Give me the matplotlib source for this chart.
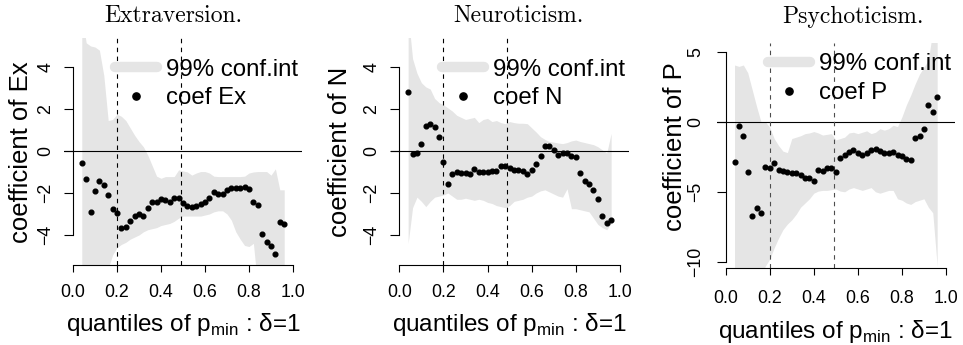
import numpy as np
import matplotlib
matplotlib.use("Agg")
import matplotlib.pyplot as plt
from matplotlib.lines import Line2D

plt.rcParams['font.family'] = ['Liberation Sans', 'DejaVu Sans']
plt.rcParams['axes.unicode_minus'] = True

# ===== DATA =====
quantiles = [0.04, 0.06, 0.08, 0.10, 0.12, 0.14, 0.16, 0.18, 0.20, 0.22, 0.24, 0.26,
             0.28, 0.30, 0.32, 0.34, 0.36, 0.38, 0.40, 0.42, 0.44, 0.46, 0.48, 0.50,
             0.52, 0.54, 0.56, 0.58, 0.60, 0.62, 0.64, 0.66, 0.68, 0.70, 0.72, 0.74,
             0.76, 0.78, 0.80, 0.82, 0.84, 0.86, 0.88, 0.90, 0.92, 0.94, 0.96]

titles = ['Extraversion.', 'Neuroticism.', 'Psychoticism.']
short_names = ['Ex', 'N', 'P']
cut_points = [0.2, 0.49]

coef_ex = [-0.59, -1.35, -2.89, -1.92, -1.41, -1.63, -2.10, -2.78, -2.97, -3.65, -3.60, -3.32,
           -3.08, -3.02, -3.08, -2.73, -2.44, -2.44, -2.30, -2.33, -2.44, -2.24, -2.24, -2.46,
           -2.62, -2.68, -2.60, -2.52, -2.41, -2.24, -1.94, -2.05, -2.05, -1.84, -1.76, -1.76,
           -1.76, -1.70, -1.79, -2.41, -2.56, -3.95, -4.35, -4.52, -4.92, -3.40, -3.49]
upper_ex = [6.5, 5.15, 5.0, 4.95, 4.8, 3.6, 1.45, 1.5, 1.75, 1.65, 1.45, 1.1,
            0.75, 0.45, 0.2, -0.2, -0.7, -1.2, -1.3, -1.22, -1.22, -1.22, -0.9, -0.95,
            -1.0, -1.15, -1.05, -0.98, -0.98, -1.05, -1.2, -1.22, -1.22, -1.22, -1.22, -1.22,
            -1.22, -1.2, -1.05, -1.0, -0.98, -0.98, -0.98, -1.15, -0.85, -1.85, -1.85]
lower_ex = [-6.5, -6.5, -6.5, -6.5, -6.5, -6.5, -5.6, -4.95, -4.6, -4.45, -4.35, -4.2,
            -4.1, -4.0, -3.85, -3.75, -3.7, -3.65, -3.55, -3.5, -3.45, -3.35, -3.2, -3.1,
            -3.1, -3.1, -3.1, -3.1, -3.05, -3.0, -2.9, -2.85, -2.85, -3.0, -3.3, -3.85,
            -4.2, -4.5, -4.55, -4.4, -6.5, -6.5, -6.5, -6.5, -6.5, -6.5, -6.5]

coef_n = [2.83, -0.16, -0.11, 0.32, 1.21, 1.27, 1.16, 0.65, -0.52, -1.59, -1.08, -1.02,
          -1.03, -1.06, -1.11, -0.84, -1.02, -1.02, -1.02, -0.94, -0.94, -0.70, -0.70, -0.81,
          -0.89, -0.90, -0.94, -1.10, -0.90, -0.62, -0.24, 0.22, 0.25, 0.05, -0.17, -0.11,
          -0.11, -0.24, -0.27, -1.03, -1.41, -1.56, -1.86, -2.29, -3.10, -3.44, -3.30]
upper_n = [6.5, 4.4, 3.7, 3.25, 3.05, 2.95, 2.5, 2.3, 2.2, 2.05, 1.9, 1.7,
           1.6, 1.5, 1.55, 1.6, 1.35, 1.5, 1.55, 1.4, 1.45, 1.35, 1.3, 1.4,
           1.35, 1.32, 1.32, 1.3, 1.1, 0.9, 0.68, 0.55, 0.45, 0.42, 0.38, 0.35,
           0.4, 0.48, 0.52, 0.45, 0.4, 0.35, 0.3, 0.2, 0.05, -0.1, 0.84]
lower_n = [-4.4, -2.7, -2.2, -2.4, -2.65, -2.4, -2.2, -2.15, -2.1, -2.0, -2.15, -2.3,
           -2.3, -2.25, -2.3, -2.35, -2.3, -2.35, -2.45, -2.5, -2.6, -2.65, -2.7, -2.6,
           -2.4, -2.35, -2.3, -2.2, -2.15, -2.0, -1.9, -1.85, -1.95, -2.05, -2.15, -2.2,
           -1.8, -2.75, -2.75, -2.8, -2.85, -2.9, -3.2, -3.5, -3.65, -3.75, -3.45]

coef_p = [-2.90, -0.31, -1.02, -3.60, -6.76, -6.19, -6.52, -3.21, -3.29, -2.98, -3.45, -3.55,
          -3.60, -3.64, -3.64, -3.83, -4.05, -4.00, -4.24, -3.45, -3.48, -3.33, -3.33, -3.57,
          -2.62, -2.40, -2.17, -2.02, -2.21, -2.38, -2.21, -2.05, -1.98, -2.07, -2.24, -2.21,
          -2.19, -2.40, -2.43, -2.67, -2.74, -1.19, -1.02, -0.55, 1.19, 0.67, 1.79]
upper_p = [4.05, 3.95, 4.05, 3.5, 2.3, 1.1, 0.0, 0.0, -0.4, -1.2, -1.7, -2.1,
           -2.2, -1.2, -1.1, -1.0, -0.85, -0.8, -0.7, -0.8, -0.95, -0.9, -0.85, -1.3,
           -1.2, -1.1, -0.8, -0.75, -0.85, -0.75, -0.65, -0.85, -0.75, -0.5, -0.6, -0.5,
           -0.25, -0.35, 0.35, 1.2, 1.9, 2.7, 3.4, 3.9, 4.4, 6.5, 6.5]
lower_p = [-11.5, -11.5, -11.5, -11.5, -11.5, -11.5, -11.0, -10.3, -9.8, -9.0, -8.3, -7.7,
           -7.3, -7.0, -6.6, -6.1, -5.8, -5.5, -5.1, -4.95, -4.9, -4.9, -4.85, -4.8,
           -4.95, -5.0, -4.8, -4.7, -4.8, -4.9, -4.8, -4.7, -5.0, -5.1, -5.0, -4.9,
           -4.9, -5.5, -5.6, -5.8, -5.9, -5.7, -5.6, -5.5, -6.1, -6.5, -10.3]

coefs = [coef_ex, coef_n, coef_p]
uppers = [upper_ex, upper_n, upper_p]
lowers = [lower_ex, lower_n, lower_p]
yticks = [[-4, -2, 0, 2, 4], [-4, -2, 0, 2, 4], [-10, -5, 0, 5]]
ylims = [(-5.43, 5.38), (-5.43, 5.38), (-10.46, 5.62)]

# ===== LAYOUT (pixels of a 963x345 canvas) =====
W, H = 963, 345
boxes = [(64.2, 38, 301.8, 265), (390.5, 38, 628.8, 265), (716.9, 43, 954.8, 268.3)]
title_x = [173, 519, 853]
ylab_x = [28, 347.3, 681.7]
ylab_y = [152, 151.7, 147]
xlab_y = [331, 331, 338]
legend_top = [58.5, 58.5, 53.5]
ypad = [6.7, 6.7, 8.4]
xpad = [8.6, 8.6, 10.4]
vline_col = ['black', 'black', '#4d4d4d']
band_col = '#e5e5e5'

fig = plt.figure(figsize=(W / 100, H / 100), dpi=100)

for i in range(3):
    l, t, r, b = boxes[i]
    ax = fig.add_axes([l / W, 1 - b / H, (r - l) / W, (b - t) / H])
    ax.set_xlim(-0.04, 1.04)
    ax.set_ylim(*ylims[i])

    # confidence band, reference lines, point estimates
    ax.fill_between(quantiles, lowers[i], uppers[i], color=band_col, lw=0, zorder=1)
    ax.axhline(0, color='black', lw=0.8, zorder=2)
    for c in cut_points:
        ax.axvline(c, color=vline_col[i], lw=0.8, ls=(0, (4, 4)), zorder=2)
    ax.plot(quantiles, coefs[i], ls='', marker='o', ms=3.4, color='black', zorder=3)

    # R-like detached axes
    for s in ['top', 'right']:
        ax.spines[s].set_visible(False)
    ax.spines['left'].set_position(('data', 0))
    ax.spines['left'].set_bounds(yticks[i][0], yticks[i][-1])
    ax.spines['bottom'].set_bounds(0, 1)
    for s in ['left', 'bottom']:
        ax.spines[s].set_linewidth(0.8)

    ax.set_xticks([0.0, 0.2, 0.4, 0.6, 0.8, 1.0])
    ax.set_xticklabels(['0.0', '0.2', '0.4', '0.6', '0.8', '1.0'])
    ax.set_yticks(yticks[i])
    ax.set_yticklabels([str(v).replace('-', '\u2212') for v in yticks[i]],
                       rotation=90, va='center')
    ax.tick_params(axis='x', length=5.3, width=0.8, pad=xpad[i], labelsize=12.8)
    ax.tick_params(axis='y', length=6.8, width=0.8, pad=ypad[i], labelsize=12.8)

    # axis labels
    ax.set_xlabel('quantiles of p$_{\\mathregular{min}}$ : \u03b4=1', fontsize=17.5)
    ax.xaxis.set_label_coords(0.5, (b - xlab_y[i]) / (b - t))
    ax.xaxis.label.set_va('baseline')
    ax.set_ylabel('coefficient of ' + short_names[i], fontsize=18.5)
    ax.yaxis.set_label_coords((ylab_x[i] - l) / (r - l), (b - ylab_y[i]) / (b - t))
    ax.yaxis.label.set_va('baseline')

    # legend
    handles = [Line2D([], [], color=band_col, lw=7.5, solid_capstyle='round'),
               Line2D([], [], ls='', marker='o', ms=5.2, color='black')]
    ax.legend(handles, ['99% conf.int', 'coef ' + short_names[i]],
              loc='upper right',
              bbox_to_anchor=(1 - 4 / (r - l), 1 - (legend_top[i] - t) / (b - t)),
              frameon=False, fontsize=17.3, handlelength=1.75, handletextpad=0.35,
              labelspacing=0.27, borderpad=0, borderaxespad=0)

    fig.text(title_x[i] / W, 1 - 22.5 / H, titles[i], family='cmr10',
             fontsize=17, ha='center', va='baseline')

fig.savefig('out.png', dpi=100)
